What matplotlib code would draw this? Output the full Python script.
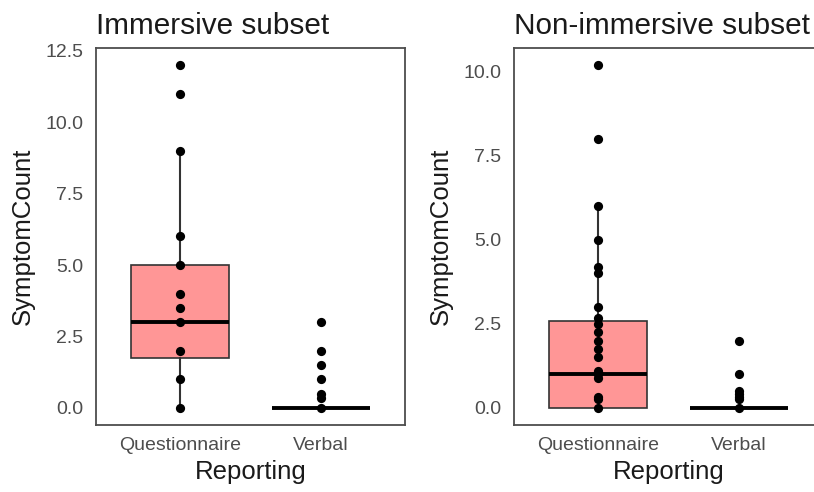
import matplotlib
matplotlib.use("Agg")
import matplotlib.pyplot as plt
from matplotlib.ticker import FormatStrFormatter

plt.rcParams['font.family'] = ['Liberation Sans', 'DejaVu Sans']

categories = ["Questionnaire", "Verbal"]
titles = ["Immersive subset", "Non-immersive subset"]

# Immersive subset
imm_questionnaire = [12, 11, 9, 6, 5, 4, 3.5, 3, 2, 1, 0]
imm_verbal = [3, 2, 1.5, 1, 0.5, 0.33, 0]
imm_q_stats = dict(q1=1.75, med=3.0, q3=5.0, whislo=0.0, whishi=9.0)
imm_v_stats = dict(q1=0.0, med=0.0, q3=0.0, whislo=0.0, whishi=0.0)

# Non-immersive subset
non_questionnaire = [10.2, 8, 6, 5, 4.2, 4, 3, 2.67, 2.5, 2.25, 2, 1.75, 1.5,
                     1.1, 1, 0.9, 0.33, 0.25, 0]
non_verbal = [2, 1, 0.5, 0.4, 0.33, 0.25, 0]
non_q_stats = dict(q1=0.0, med=1.0, q3=2.6, whislo=0.0, whishi=6.0)
non_v_stats = dict(q1=0.0, med=0.0, q3=0.0, whislo=0.0, whishi=0.0)

imm_ticks = [0, 2.5, 5, 7.5, 10, 12.5]
non_ticks = [0, 2.5, 5, 7.5, 10]

W, H = 814, 492
fig = plt.figure(figsize=(W / 100, H / 100), dpi=100)

def px_axes(x0, y0, x1, y1):
    return fig.add_axes([x0 / W, 1 - y1 / H, (x1 - x0) / W, (y1 - y0) / H])

ax1 = px_axes(96, 48, 405, 425)
ax2 = px_axes(514, 48, 823, 425)

panels = [
    (ax1, [imm_questionnaire, imm_verbal], [imm_q_stats, imm_v_stats], imm_ticks, titles[0]),
    (ax2, [non_questionnaire, non_verbal], [non_q_stats, non_v_stats], non_ticks, titles[1]),
]

for ax, pts, stats, ticks, title in panels:
    bstats = []
    for s, lab in zip(stats, categories):
        d = dict(s)
        d['label'] = lab
        d['fliers'] = []
        bstats.append(d)
    ax.bxp(bstats, positions=[1, 2], widths=0.7, patch_artist=True,
           showfliers=False, showcaps=False,
           boxprops=dict(facecolor='#FF9696', edgecolor='#333333', linewidth=1.2),
           whiskerprops=dict(color='#333333', linewidth=1.5),
           medianprops=dict(color='black', linewidth=2.8, solid_capstyle='butt'))
    for i, vals in enumerate(pts):
        ax.scatter([i + 1] * len(vals), vals, s=44, color='black', zorder=5, linewidths=0)
    allv = pts[0] + pts[1]
    vmax = max(allv)
    vmin = min(allv)
    pad = 0.05 * (vmax - vmin)
    ax.set_ylim(vmin - pad, vmax + pad)
    ax.set_xlim(0.4, 2.6)
    ax.set_yticks(ticks)
    ax.yaxis.set_major_formatter(FormatStrFormatter('%.1f'))
    ax.set_xticks([1, 2])
    ax.set_xticklabels(categories)
    ax.tick_params(axis='both', length=0, labelsize=14, labelcolor='#4D4D4D')
    ax.tick_params(axis='y', pad=9)
    ax.tick_params(axis='x', pad=9)
    for sp in ax.spines.values():
        sp.set_color('#4D4D4D')
        sp.set_linewidth(1.3)
    ax.set_xlabel("Reporting", fontsize=18.5, color='#1A1A1A', labelpad=4)
    ax.set_ylabel("SymptomCount", fontsize=18.5, color='#1A1A1A', labelpad=8)
    ax.set_title(title, fontsize=21.4, loc='left', color='#1A1A1A', pad=10)

fig.savefig("out.png", dpi=100)
